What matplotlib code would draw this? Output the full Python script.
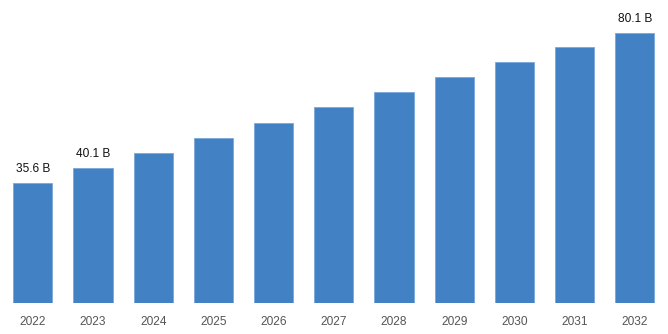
import matplotlib.pyplot as plt

years = ['2022', '2023', '2024', '2025', '2026', '2027', '2028', '2029', '2030', '2031', '2032']
market_size = [35.6, 40.1, 44.5, 49.0, 53.5, 58.1, 62.6, 67.0, 71.6, 76.1, 80.1]
labels = {0: '35.6 B', 1: '40.1 B', 10: '80.1 B'}

plt.rcParams['font.family'] = ['Liberation Sans', 'DejaVu Sans']

fig = plt.figure(figsize=(6.68, 3.34), dpi=100)
ax = fig.add_axes([2.7 / 668, 30.7 / 334, 662.2 / 668, 303.3 / 334])

x = range(len(years))
bars = ax.bar(x, market_size, width=0.65, color='#4181c4', edgecolor='#7aa6d8', linewidth=0.6)

for i, txt in labels.items():
    ax.annotate(txt, (i, market_size[i]), xytext=(0, 6), textcoords='offset points',
                ha='center', va='bottom', fontsize=8.6, color='#111111')

ax.set_xlim(-0.5, len(years) - 0.5)
ax.set_ylim(0, 303.3 / 3.371)
ax.set_xticks(list(x))
ax.set_xticklabels(years, fontsize=8.6, color='#555555')
ax.tick_params(axis='x', length=0, pad=9)
ax.set_yticks([])
for s in ax.spines.values():
    s.set_visible(False)

fig.savefig('out.png', dpi=100)
